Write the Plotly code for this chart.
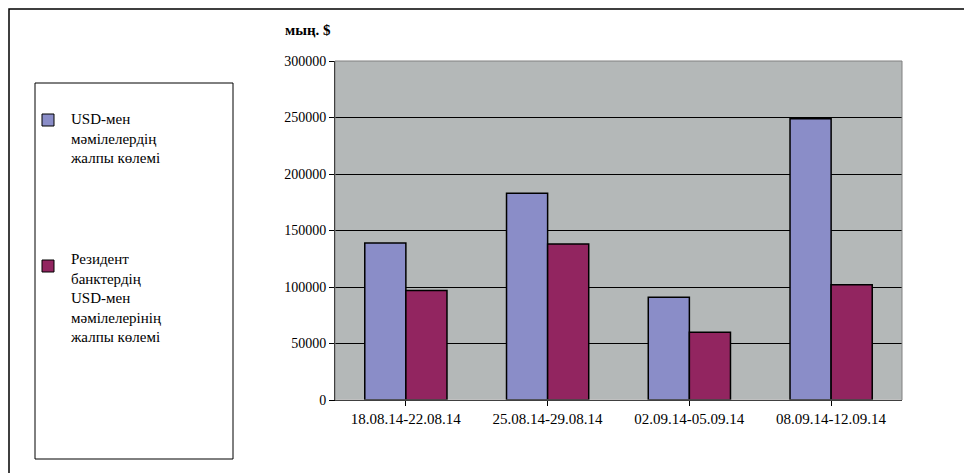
import plotly.graph_objects as go

categories = ["18.08.14-22.08.14", "25.08.14-29.08.14", "02.09.14-05.09.14", "08.09.14-12.09.14"]
usd_total = [139000, 183000, 91000, 249000]
resident_usd = [97000, 138000, 60000, 102000]
names = ["USD-мен<br>мәмілелердің<br>жалпы көлемі", "Резидент<br>банктердің<br>USD-мен<br>мәмілелерінің<br>жалпы көлемі"]
colors = ["#8A8DC8", "#922560"]

fig = go.Figure()
for vals, c in [(usd_total, colors[0]), (resident_usd, colors[1])]:
    fig.add_bar(x=categories, y=vals, marker=dict(color=c, line=dict(color="black", width=1.5)), showlegend=False)

W, H = 972, 473
def px(x): return x / W
def py(y): return 1 - y / H

shapes = [
    dict(type="rect", xref="paper", yref="paper", x0=px(1), y0=py(472), x1=px(971), y1=py(1), line=dict(color="black", width=1.5)),
    dict(type="rect", xref="paper", yref="paper", x0=px(27), y0=py(451), x1=px(225), y1=py(75), line=dict(color="black", width=1)),
]
ann = [dict(text="<b>мың. $</b>", xref="paper", yref="paper", x=px(275), y=py(22), xanchor="left", yanchor="middle", showarrow=False, font=dict(size=15))]
for (y0, c, nm, ty) in [(112, colors[0], names[0], 112), (258, colors[1], names[1], 252)]:
    shapes.append(dict(type="rect", xref="paper", yref="paper", x0=px(34), y0=py(y0+6), x1=px(46), y1=py(y0-6), fillcolor=c, line=dict(color="black", width=1)))
    ann.append(dict(text=nm, xref="paper", yref="paper", x=px(60), y=py(ty-11), xanchor="left", yanchor="top", align="left", showarrow=False, font=dict(size=15)))

fig.update_layout(
    width=W, height=H, margin=dict(l=0, r=0, t=0, b=0),
    paper_bgcolor="white", plot_bgcolor="#B4B8B8",
    font=dict(family="Liberation Serif", size=14, color="black"),
    barmode="group", bargap=0.42, bargroupgap=0,
    shapes=shapes, annotations=ann,
    xaxis=dict(domain=[px(327), px(894)], automargin=False, showline=True, linecolor="black", ticks="outside",
               tickcolor="black", tickfont=dict(size=15)),
    yaxis=dict(domain=[py(392), py(53)], automargin=False, range=[0, 300000], dtick=50000, showgrid=True,
               gridcolor="black", gridwidth=1, showline=True, linecolor="black", ticks="outside",
               tickcolor="black", tickformat="d"),
)
fig.add_shape(type="rect", xref="x domain", yref="y domain", x0=0, y0=0, x1=1, y1=1, line=dict(color="#808080", width=1))
fig.write_html("out.html")
